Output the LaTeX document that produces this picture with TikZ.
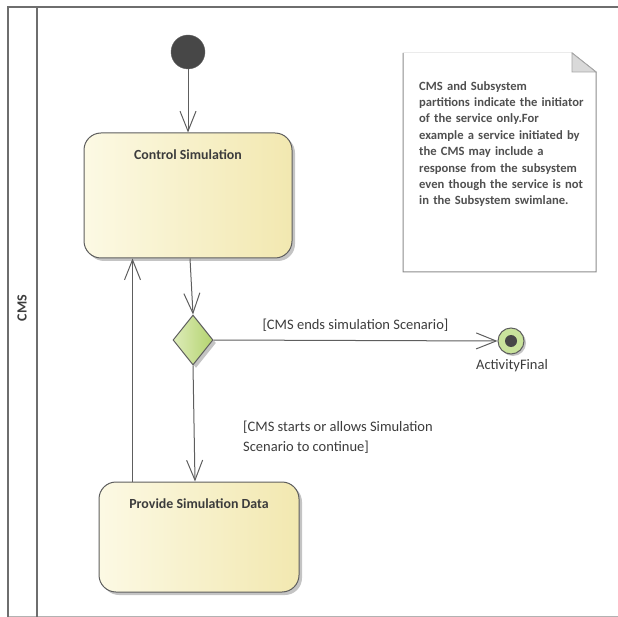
\documentclass[tikz,border=0pt]{standalone}
\usepackage{fontspec}
\setmainfont{Carlito}
\usetikzlibrary{arrows.meta,shapes.geometric,shadows,calc}
\definecolor{lanecol}{HTML}{6E6E6E}
\definecolor{linecol}{HTML}{5E5E5E}
\definecolor{txtcol}{HTML}{3C3C3C}
\definecolor{notetxt}{HTML}{505050}
\definecolor{boxL}{HTML}{FCF9E4}
\definecolor{boxR}{HTML}{F2E8B0}
\definecolor{grnL}{HTML}{DDECB9}
\definecolor{grnR}{HTML}{B4D36F}
\definecolor{fingrn}{HTML}{C9E39C}
\definecolor{shad}{HTML}{C4C4C4}
\tikzset{
  flow/.style={draw=linecol, line width=1pt, -{Straight Barb[length=20pt,width=16pt,line width=1pt]}},
  actbox/.style={draw=linecol, line width=1pt, rounded corners=17pt, shading=axis, left color=boxL, right color=boxR, shading angle=90,
     drop shadow={shadow xshift=3pt, shadow yshift=-3pt, fill=shad, opacity=1}, inner sep=0pt},
  boxtitle/.style={font=\fontsize{13.9}{16}\selectfont\bfseries, text=txtcol, anchor=center},
  guard/.style={font=\fontsize{14.5}{20}\selectfont, text=txtcol},
}
\begin{document}
\begin{tikzpicture}[x=1pt,y=-1pt]
\useasboundingbox (0,0) rectangle (618,617);
% swimlane
\draw[draw=black!30, line width=1pt] (8,616) -- (618,616);
\draw[draw=lanecol, line width=2pt] (8,617) -- (8,7.5) -- (618,7.5);
\draw[draw=lanecol, line width=2pt] (37,7.5) -- (37,617);
\node[rotate=90, font=\fontsize{14}{16}\selectfont\bfseries, text=txtcol] (lane) at (22,308) {CMS};
% note
\fill[white] (403,53) -- (572,53) -- (596,72) -- (596,272) -- (403,272) -- cycle;
\draw[draw=black!45, line width=1pt] (572,53) -- (596,72) -- (596,272) -- (403,272) -- (403,53);
\draw[draw=black!8, line width=1pt] (403,53) -- (572,53);
\filldraw[fill=black!15, draw=black!35, line width=0.8pt] (572,53) -- (596,72) -- (572,72) -- cycle;
\node[anchor=north west, inner sep=0pt, text width=190pt, align=left, text=notetxt,
      font=\fontsize{12.6}{16.4}\selectfont\bfseries] (notetext) at (419,81)
  {CMS and Subsystem\\ partitions indicate the initiator\\ of the service only.For\\ example a service initiated by\\ the CMS may include a\\ response from the subsystem\\ even though the service is not\\ in the Subsystem swimlane.};
% nodes
\node[circle, fill=black!72, draw=black!60, minimum size=34pt, inner sep=0pt] (init) at (188,52) {};
\node[actbox, minimum width=208pt, minimum height=125pt] (cs) at (188,195.5) {};
\node[boxtitle] (cst) at (188,155) {Control Simulation};
\node[diamond, draw=linecol, line width=1pt, minimum width=40pt, minimum height=50pt, inner sep=0pt,
      shading=axis, left color=grnL, right color=grnR, shading angle=90,
      drop shadow={shadow xshift=3pt, shadow yshift=-3pt, fill=shad, opacity=1}] (dec) at (193,340) {};
\node[circle, draw=linecol, line width=1pt, fill=fingrn, minimum size=26pt, inner sep=0pt,
      drop shadow={shadow xshift=2pt, shadow yshift=-2pt, fill=shad, opacity=1}] (fin) at (511,341) {};
\node[circle, fill=black!72, minimum size=12pt, inner sep=0pt] (findot) at (fin.center) {};
\node[font=\fontsize{14.5}{16}\selectfont, text=txtcol] (finlbl) at (512,366) {ActivityFinal};
\node[actbox, minimum width=200pt, minimum height=110pt] (psd) at (199,537) {};
\node[boxtitle] (psdt) at (199,504) {Provide Simulation Data};
% connectors
\draw[flow] (init) -- (cs.north);
\draw[flow] ($(cs.south)+(2,0)$) -- (dec.north);
\draw[flow] (dec.east) -- (fin.west) node[pos=0.5, above=5pt, guard] (g1) {[CMS ends simulation Scenario]};
\draw[flow] (dec.south) -- ($(psd.north)+(-4,0)$);
\draw[flow] ($(psd.north west)+(34,0)$) -- ($(cs.south west)+(49,0)$);
\node[anchor=west, guard, align=left, inner sep=0pt] (g2) at (243,437) {[CMS starts or allows Simulation\\Scenario to continue]};
\end{tikzpicture}
\end{document}
